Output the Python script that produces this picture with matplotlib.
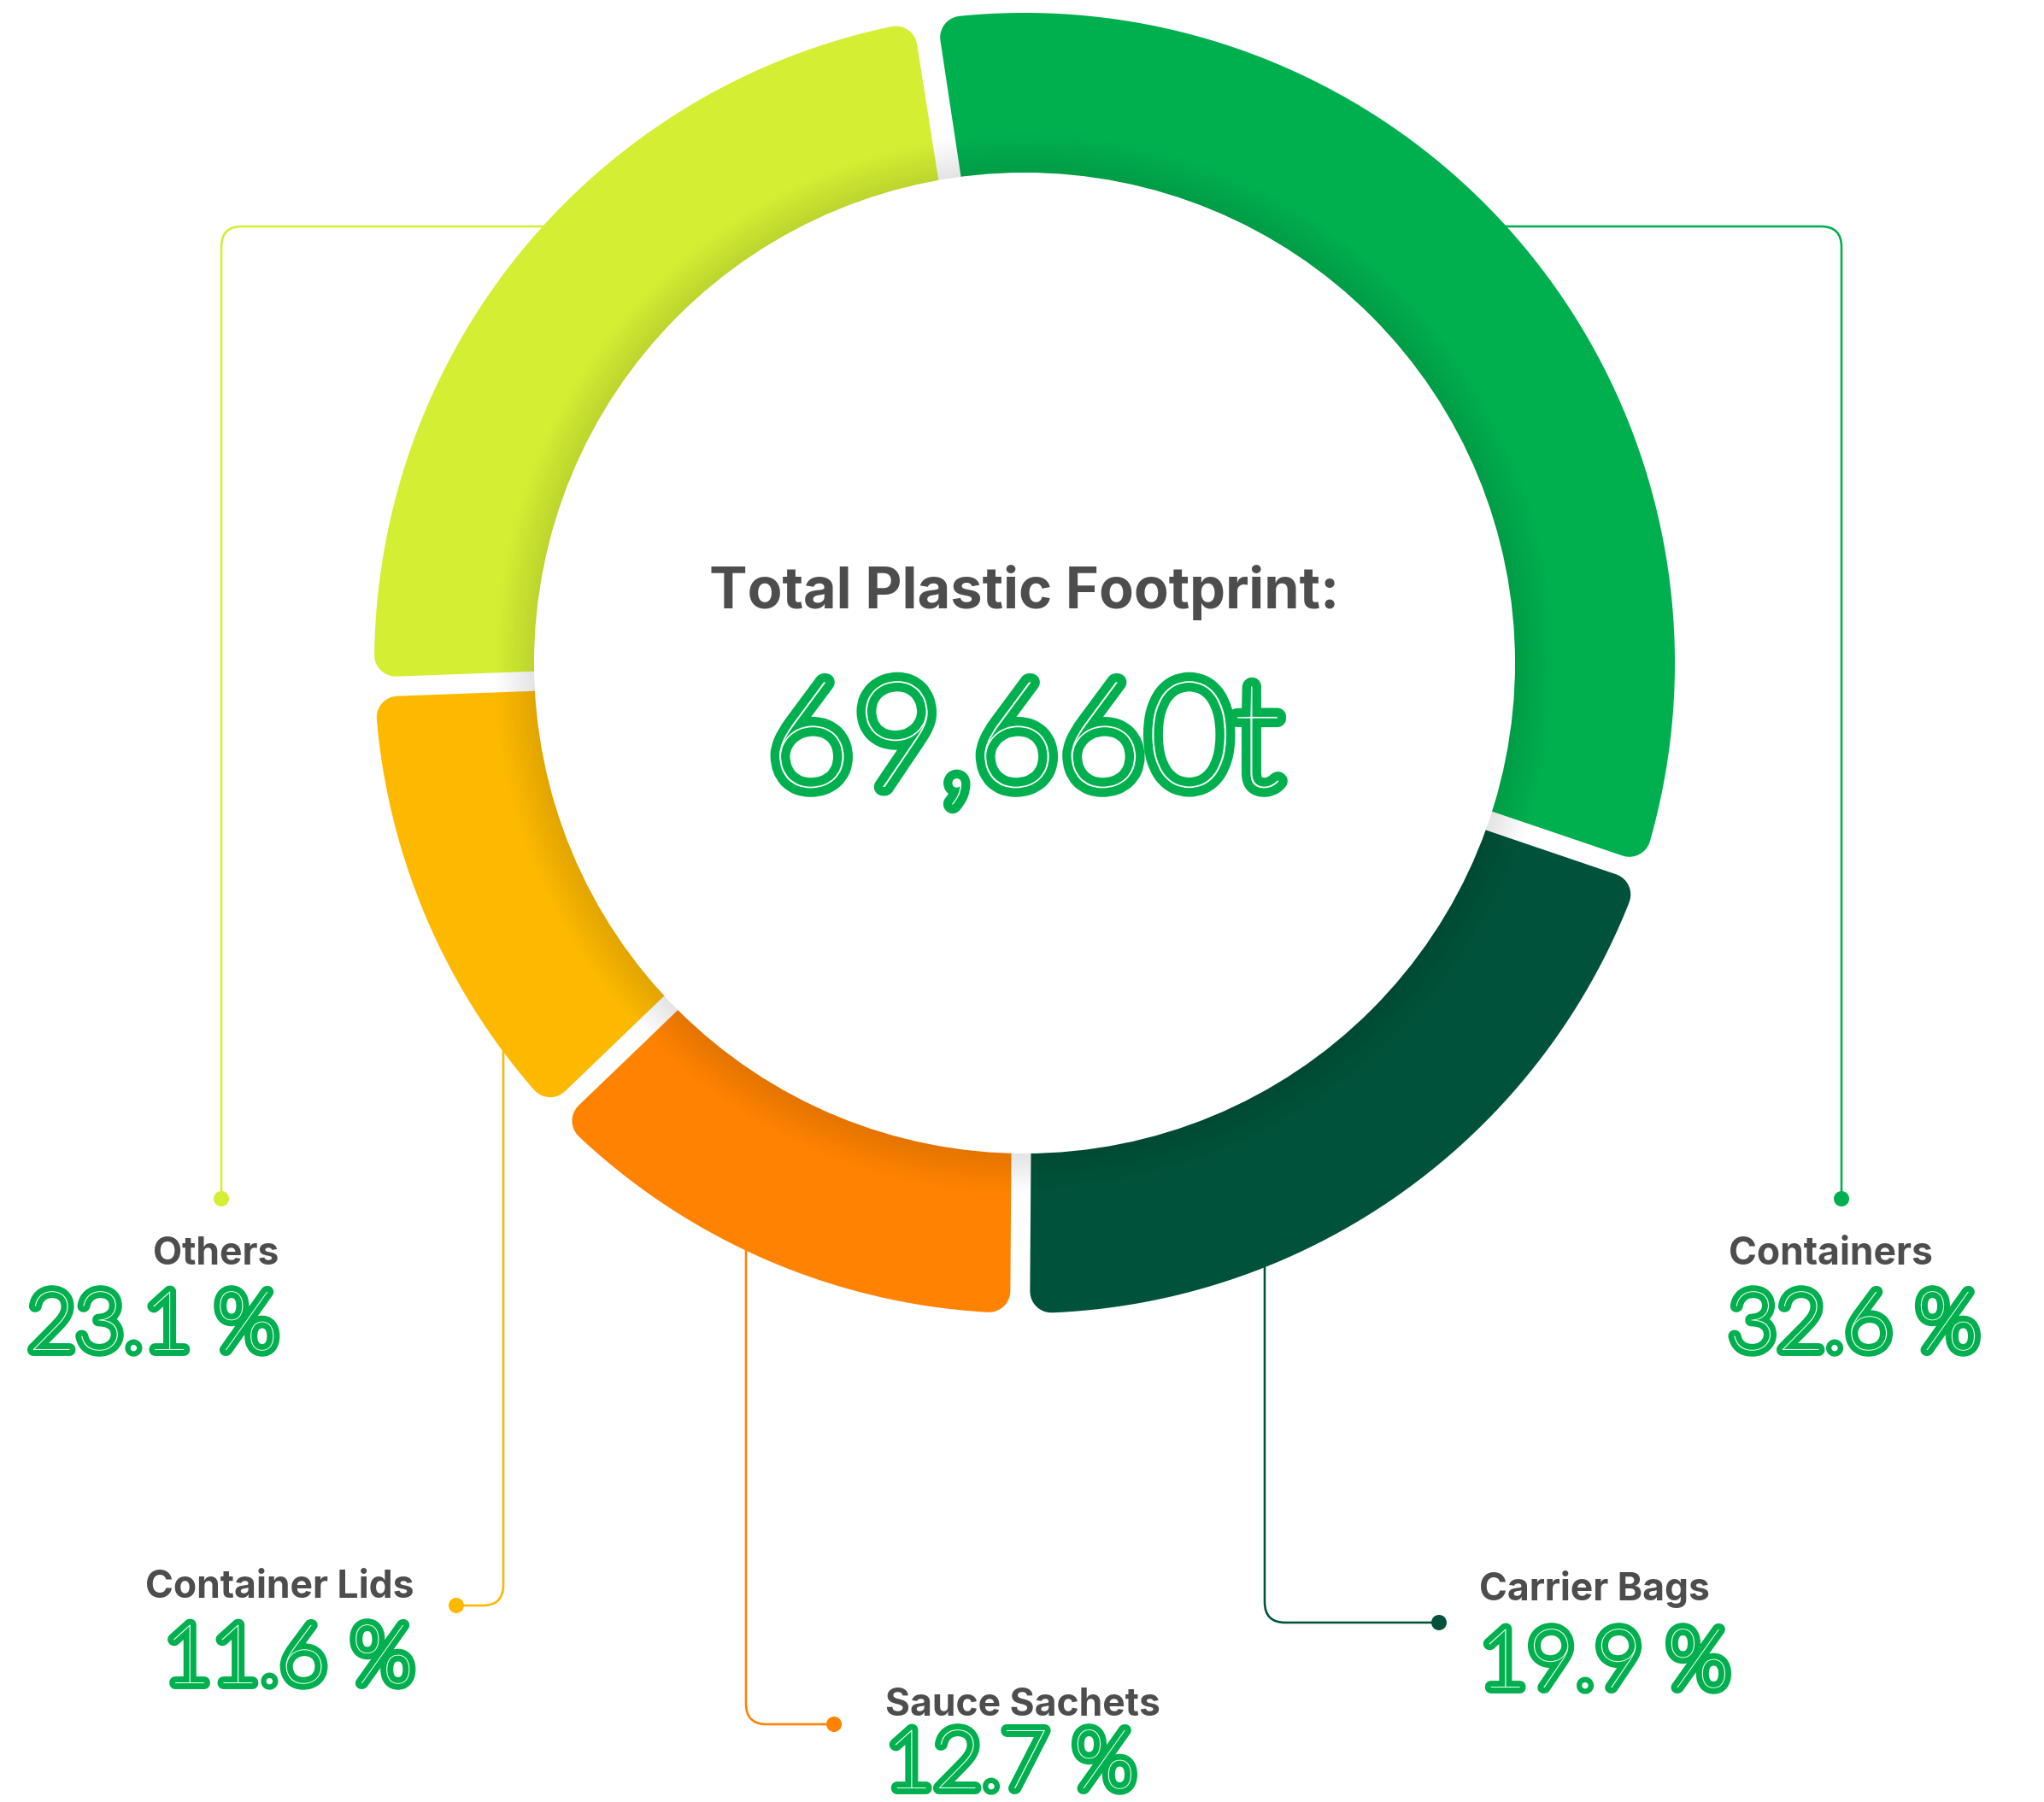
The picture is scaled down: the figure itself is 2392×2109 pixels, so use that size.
import matplotlib.pyplot as plt
import matplotlib.patheffects as pe
import numpy as np
from matplotlib.path import Path
from matplotlib.patches import PathPatch, Circle

categories = ['Containers', 'Carrier Bags', 'Sauce Sachets', 'Container Lids', 'Others']
shares = [32.6, 19.9, 12.7, 11.6, 23.1]
colors = ['#00b04f', '#00533a', '#ff8300', '#fdb900', '#d4ef33']
total_label = '69,660t'
title = 'Total Plastic Footprint:'

W, H = 2392, 2109
DPI = 100
PT = 72 / DPI          # points per pixel

cx, cy = 1199, 776
r_out, r_in = 761, 574
start_angle = 98.6     # degrees, going clockwise
gap = 23
corner = 25
green = '#00b04f'
grey = '#4d4d4d'

fig = plt.figure(figsize=(W / DPI, H / DPI), dpi=DPI)
ax = fig.add_axes([0, 0, 1, 1])
ax.set_xlim(0, W)
ax.set_ylim(H, 0)
ax.set_aspect('equal')
ax.axis('off')


def pt(r, a):
    a = np.radians(a)
    return cx + r * np.cos(a), cy - r * np.sin(a)


def wedge_path(a1, a2):
    # a1 > a2, clockwise wedge shrunk by gap/2 + corner, later re-grown with a round stroke
    d = gap / 2 + corner
    ro = r_out - corner
    ri = r_in - 80
    do = np.degrees(np.arcsin(d / ro))
    di = np.degrees(np.arcsin(d / ri))
    outer = np.linspace(a1 - do, a2 + do, 200)
    inner = np.linspace(a2 + di, a1 - di, 200)
    verts = [pt(ro, a) for a in outer] + [pt(ri, a) for a in inner]
    verts.append(verts[0])
    return Path(verts, closed=True)


# leader lines (drawn below the ring)
def leader(p0, p1, p2, color):
    # p0 -> p1 -> p2 with a rounded corner at p1
    rc = 24
    p0, p1, p2 = map(np.array, (p0, p1, p2))
    u = (p1 - p0) / np.linalg.norm(p1 - p0)
    v = (p2 - p1) / np.linalg.norm(p2 - p1)
    verts = [p0, p1 - u * rc, p1, p1 + v * rc, p2]
    codes = [Path.MOVETO, Path.LINETO, Path.CURVE3, Path.CURVE3, Path.LINETO]
    ax.add_patch(PathPatch(Path(verts, codes), fill=False, edgecolor=color,
                           linewidth=2.6 * PT, zorder=1, capstyle='round'))
    ax.add_patch(Circle(p2, 9, color=color, zorder=1, linewidth=0))


r_mid = (r_in + r_out) / 2
leaders = {
    'Containers': ((cx + np.sqrt(r_mid**2 - (cy - 265)**2), 265), (2155, 265), (2155, 1403)),
    'Others': ((cx - np.sqrt(r_mid**2 - (cy - 265)**2), 265), (259, 265), (259, 1403)),
    'Container Lids': ((589, cy + np.sqrt(r_mid**2 - (cx - 589)**2)), (589, 1879), (534, 1879)),
    'Sauce Sachets': ((873, cy + np.sqrt(r_mid**2 - (cx - 873)**2)), (873, 2018), (976, 2018)),
    'Carrier Bags': ((1480, cy + np.sqrt(r_mid**2 - (cx - 1480)**2)), (1480, 1899), (1684, 1899)),
}
for cat, col in zip(categories, colors):
    leader(*leaders[cat], col)

# ring segments
a = start_angle
for share, col in zip(shares, colors):
    span = 360 * share / 100
    ax.add_patch(PathPatch(wedge_path(a, a - span), facecolor=col, edgecolor=col,
                           linewidth=2 * corner * PT, joinstyle='round', zorder=2))
    a -= span

# soft shadow around the white centre (radial alpha gradient)
sw = 48
ext = r_in + sw
gx, gy = np.meshgrid(np.arange(cx - ext, cx + ext) + 0.5, np.arange(cy - ext, cy + ext) + 0.5)
rr = np.hypot(gx - cx, gy - cy)
shade = np.zeros(rr.shape + (4,))
shade[..., 3] = np.clip(1 - (rr - r_in) / sw, 0, 1) * 0.11
shade[..., 3][rr < r_in - 2] = 0
ax.imshow(shade, extent=(cx - ext, cx + ext, cy + ext, cy - ext), zorder=3,
          interpolation='bilinear')
ax.set_xlim(0, W)
ax.set_ylim(H, 0)
ax.add_patch(Circle((cx, cy), r_in, color='white', linewidth=0, zorder=4))

label_font = ['Inter', 'Roboto', 'DejaVu Sans']
num_font = ['Lato', 'Roboto', 'DejaVu Sans']


def big_num(x, y, s, size, ha, lw):
    ax.text(x, y, s, fontsize=size, family=num_font, fontweight='light', color='white',
            ha=ha, va='baseline', zorder=6,
            path_effects=[pe.Stroke(linewidth=lw, foreground=green), pe.Normal()])


ax.text(cx, 712, title, fontsize=48, family=label_font, fontweight='bold',
        color=grey, ha='center', va='baseline', zorder=6)
big_num(cx, 921, total_label, 126, 'center', 15)

# label positions: (x, label baseline, number baseline, alignment)
label_pos = {
    'Containers': (2023, 1480, 1580, 'left'),
    'Carrier Bags': (1731, 1873, 1975, 'left'),
    'Sauce Sachets': (1036, 2008, 2093, 'left'),
    'Container Lids': (485, 1870, 1970, 'right'),
    'Others': (326, 1480, 1580, 'right'),
}
for cat, share in zip(categories, shares):
    x, yl, yn, ha = label_pos[cat]
    ax.text(x, yl, cat, fontsize=32, family=label_font, fontweight='bold',
            color=grey, ha=ha, va='baseline', zorder=6)
    big_num(x, yn, f'{share:.1f} %', 70, ha, 10)

fig.savefig('out.png', dpi=DPI, facecolor='white')
